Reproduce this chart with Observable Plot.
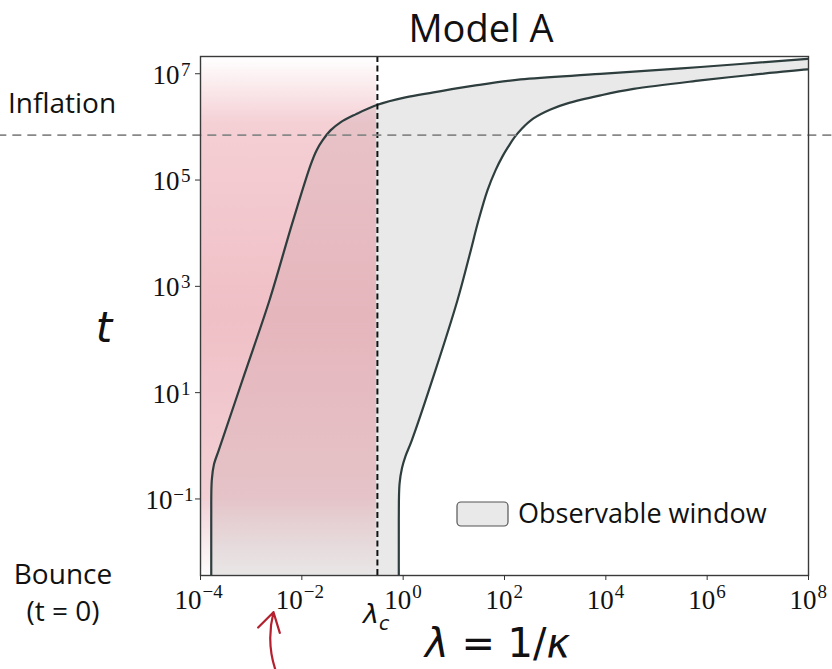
<!DOCTYPE html>
<html><head><meta charset="utf-8">
<script src="https://cdn.jsdelivr.net/npm/d3@7"></script>
<script src="https://cdn.jsdelivr.net/npm/@observablehq/plot@0.6"></script>
<style>body{margin:0;background:#fff}#chart{width:832px;height:669px}</style>
</head><body><div id="chart"></div>
<script>
// ---- data ----
const leftLam  = [1.63e-4, 1.63e-4, 1.63e-4, 1.67e-4, 1.85e-4, 2.26e-4, 7.38e-4, 2.30e-3, 6.55e-3, 0.0148, 0.0195, 0.0256, 0.0368, 0.0579, 0.115, 0.311, 1.11, 3.97, 26.8, 207, 7850, 7.38e5, 9.55e7, 6.75e8];
const leftT    = [2.23e-4, 3.72e-3, 0.0401, 0.2265, 0.453, 0.794, 22.3, 548, 1.60e4, 1.89e5, 3.61e5, 5.57e5, 8.59e5, 1.22e6, 1.72e6, 2.61e6, 3.59e6, 4.45e6, 6.03e6, 7.82e6, 9.91e6, 1.34e7, 1.91e7, 2.21e7];
const rightLam = [0.820, 0.820, 0.820, 0.847, 0.948, 1.112, 1.462, 4.345, 11.8, 20.4, 30.7, 46.1, 66.4, 91.3, 120, 157, 217, 373, 809, 1750, 7850, 3.52e4, 7.38e5, 7.16e6, 9.55e7, 6.75e8];
const rightT   = [2.23e-4, 3.72e-3, 0.0401, 0.1905, 0.381, 0.640, 1.225, 26.5, 548, 3846, 1.746e4, 6.40e4, 1.52e5, 2.79e5, 4.30e5, 6.35e5, 9.16e5, 1.445e6, 2.13e6, 2.77e6, 3.91e6, 5.18e6, 7.48e6, 9.48e6, 1.205e7, 1.37e7];
const lambdaC = 0.31;
const tInflation = 7e5;
const xTickExps = [-4, -2, 0, 2, 4, 6, 8];
const yTickExps = [-1, 1, 3, 5, 7];
const xDomain = [1e-4, 1e8];
const yDomain = [3.63e-3, 2.11e7];
const legendLabel = "Observable window";

// ---- derived tables ----
const leftCurve = leftLam.map((x, i) => ({x, y: leftT[i]}));
const rightCurve = rightLam.map((x, i) => ({x, y: rightT[i]}));
// grey fill continues past the plot's right edge so the top-right corner stays closed
const rightFill = rightCurve.concat([{x: 5e9, y: 5e7}]);
const xTicks = xTickExps.map(e => ({e, v: 10 ** e}));
const yTicks = yTickExps.map(e => ({e, v: 10 ** e}));
const expText = d => d.e < 0 ? "\u2212" + (-d.e) : String(d.e);
const farLeft = 1e-6;

const W = 832, H = 669, mL = 200, mR = 24, mT = 56, mB = 94;
const serif = "Liberation Serif, Times New Roman, serif";
const sans = "Open Sans, Noto Sans, sans-serif";
const mathf = "DejaVu Sans, sans-serif";
const lineColor = "#2e3d3d";
const crv = "catmull-rom";

const plot = Plot.plot({
  width: W, height: H,
  marginLeft: mL, marginRight: mR, marginTop: mT, marginBottom: mB,
  x: {type: "log", domain: xDomain},
  y: {type: "log", domain: yDomain},
  style: {background: "#fff", overflow: "visible"},
  marks: [
    // band: grey up to the right boundary, then white left of the left boundary
    Plot.areaX(rightFill, {y: "y", x1: () => farLeft, x2: "x", fill: "#e9e9e9", curve: crv, clip: true}),
    Plot.areaX(leftCurve, {y: "y", x1: () => farLeft, x2: "x", fill: "#ffffff", curve: crv, clip: true}),
    Plot.rect([{x1: xDomain[0], x2: lambdaC, y1: yDomain[0], y2: yDomain[1]}],
      {x1: "x1", x2: "x2", y1: "y1", y2: "y2", fill: "url(#pinkFade)", inset: 1, rx: 8}),
    Plot.line(leftCurve, {x: "x", y: "y", stroke: lineColor, strokeWidth: 2.2, curve: crv, clip: true}),
    Plot.line(rightCurve, {x: "x", y: "y", stroke: lineColor, strokeWidth: 2.2, curve: crv, clip: true}),
    Plot.ruleX([lambdaC], {stroke: "#111", strokeWidth: 2, strokeDasharray: "6,3.5"}),
    Plot.ruleY([{t: tInflation, x1: 1e-8, x2: 1e9}], {y: "t", x1: "x1", x2: "x2", stroke: "#888", strokeWidth: 1.8, strokeDasharray: "9,6"}),
    Plot.frame({stroke: "#3a3a3a", strokeWidth: 1.4}),
    Plot.axisX({ticks: xTicks.map(d => d.v), tickSize: 5, tickFormat: () => "", label: null, stroke: "#333"}),
    Plot.axisY({ticks: yTicks.map(d => d.v), tickSize: 5, tickFormat: () => "", label: null, stroke: "#333"}),
    // x tick labels: base and exponent
    Plot.text(xTicks, {x: "v", text: () => "10", frameAnchor: "bottom", lineAnchor: "bottom", textAnchor: "end",
      dy: 33, dx: 1, fontSize: 27, fontFamily: serif, fill: "#111", filter: d => d.e < 0}),
    Plot.text(xTicks, {x: "v", text: () => "10", frameAnchor: "bottom", lineAnchor: "bottom", textAnchor: "end",
      dy: 33, dx: 8, fontSize: 27, fontFamily: serif, fill: "#111", filter: d => d.e >= 0}),
    Plot.text(xTicks, {x: "v", text: expText, frameAnchor: "bottom", lineAnchor: "bottom", textAnchor: "start",
      dy: 22, dx: 2, fontSize: 19, fontFamily: serif, fill: "#111", filter: d => d.e < 0}),
    Plot.text(xTicks, {x: "v", text: expText, frameAnchor: "bottom", lineAnchor: "bottom", textAnchor: "start",
      dy: 22, dx: 9, fontSize: 19, fontFamily: serif, fill: "#111", filter: d => d.e >= 0}),
    // y tick labels
    Plot.text(yTicks, {y: "v", text: () => "10", frameAnchor: "left", lineAnchor: "bottom", textAnchor: "end",
      dy: 10, dx: -28, fontSize: 27, fontFamily: serif, fill: "#111", filter: d => d.e < 0}),
    Plot.text(yTicks, {y: "v", text: () => "10", frameAnchor: "left", lineAnchor: "bottom", textAnchor: "end",
      dy: 10, dx: -21, fontSize: 27, fontFamily: serif, fill: "#111", filter: d => d.e >= 0}),
    Plot.text(yTicks, {y: "v", text: expText, frameAnchor: "left", lineAnchor: "bottom", textAnchor: "end",
      dy: 2, dx: -7, fontSize: 19, fontFamily: serif, fill: "#111", filter: d => d.e < 0}),
    Plot.text(yTicks, {y: "v", text: expText, frameAnchor: "left", lineAnchor: "bottom", textAnchor: "end",
      dy: 2, dx: -10, fontSize: 19, fontFamily: serif, fill: "#111", filter: d => d.e >= 0}),
    // red arrow annotation
    Plot.arrow([{x1: 10 ** -2.47, y1: 10 ** -4.35, x2: 10 ** -2.56, y2: 10 ** -3.13}],
      {x1: "x1", y1: "y1", x2: "x2", y2: "y2", bend: 18, stroke: "#b5202f", strokeWidth: 2.2,
       headLength: 17, headAngle: 62, inset: 0})
  ]
});

const svg = d3.select(plot);
svg.insert("defs", ":first-child").html(`
  <linearGradient id="pinkFade" x1="0" y1="0" x2="0" y2="1">
    <stop offset="0" stop-color="#e58d99" stop-opacity="0"/>
    <stop offset="0.13" stop-color="#e58d99" stop-opacity="0.42"/>
    <stop offset="0.5" stop-color="#e38c98" stop-opacity="0.55"/>
    <stop offset="0.85" stop-color="#df8e99" stop-opacity="0.42"/>
    <stop offset="1" stop-color="#d9a0a8" stop-opacity="0.05"/>
  </linearGradient>`);

const ann = svg.append("g").attr("fill", "#111").attr("text-anchor", "start");
ann.append("text").attr("x", 481).attr("y", 42).attr("text-anchor", "middle")
  .attr("font-family", sans).attr("font-size", 38).text("Model A");
ann.append("text").attr("x", 8).attr("y", 113).attr("text-anchor", "start")
  .attr("font-family", sans).attr("font-size", 28).text("Inflation");
ann.append("text").attr("x", 63).attr("y", 584).attr("text-anchor", "middle")
  .attr("font-family", sans).attr("font-size", 28).text("Bounce");
ann.append("text").attr("x", 63).attr("y", 621).attr("text-anchor", "middle")
  .attr("font-family", sans).attr("font-size", 28).text("(t = 0)");
ann.append("text").attr("x", 104).attr("y", 342).attr("text-anchor", "middle")
  .attr("font-family", mathf).attr("font-style", "italic").attr("font-size", 42).text("t");
const xl = ann.append("text").attr("x", 425).attr("y", 657).attr("text-anchor", "start")
  .attr("font-family", mathf).attr("font-size", 40);
xl.append("tspan").attr("font-style", "italic").text("λ");
xl.append("tspan").text(" = 1/");
xl.append("tspan").attr("font-style", "italic").text("κ");
const lc = ann.append("text").attr("x", 363).attr("y", 623).attr("text-anchor", "start")
  .attr("font-family", mathf).attr("font-size", 27);
lc.append("tspan").attr("font-style", "italic").text("λ");
lc.append("tspan").attr("font-style", "italic").attr("font-size", 19).attr("dy", 7).text("c");

const leg = svg.append("g");
leg.append("rect").attr("x", 457).attr("y", 502).attr("width", 51).attr("height", 24).attr("rx", 4)
  .attr("fill", "#e9e9e9").attr("stroke", "#555").attr("stroke-width", 1.2);
leg.append("text").attr("x", 518).attr("y", 523).attr("text-anchor", "start").attr("font-family", sans).attr("font-size", 27)
  .attr("fill", "#111").text(legendLabel);

document.getElementById("chart").appendChild(plot);
</script>
</body></html>
